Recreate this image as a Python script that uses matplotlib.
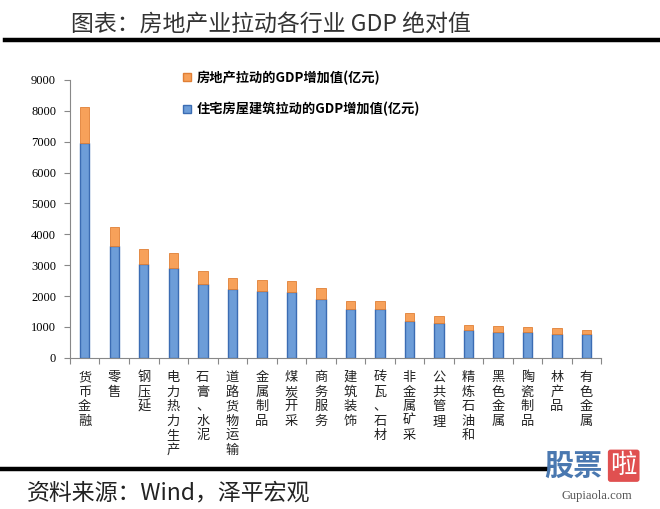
import matplotlib.pyplot as plt
from matplotlib.patches import Patch

plt.rcParams['font.family'] = ['Noto Sans CJK SC', 'DejaVu Sans']

# 行业与数值（亿元）
categories = ['货币金融', '零售', '钢压延', '电力热力生产', '石膏、水泥', '道路货物运输',
              '金属制品', '煤炭开采', '商务服务', '建筑装饰', '砖瓦、石材', '非金属矿采',
              '公共管理', '精炼石油和', '黑色金属', '陶瓷制品', '林产品', '有色金属']
total = [8110, 4230, 3510, 3400, 2800, 2600, 2510, 2480, 2260, 1850, 1830, 1440,
         1350, 1070, 1020, 985, 975, 900]
housing = [6950, 3610, 3030, 2910, 2380, 2220, 2160, 2120, 1910, 1590, 1570, 1190,
           1140, 900, 845, 830, 770, 770]
extra = [t - h for t, h in zip(total, housing)]
yticks = [0, 1000, 2000, 3000, 4000, 5000, 6000, 7000, 8000, 9000]

blue, blue_edge = '#6d9dd8', '#3b6cb3'
orange, orange_edge = '#f7a15a', '#e07f35'

fig = plt.figure(figsize=(6.6, 5.09), dpi=100)
ax = fig.add_axes([0.106, 0.297, 0.805, 0.546])

x = list(range(len(categories)))
ax.bar(x, housing, width=0.32, color=blue, edgecolor=blue_edge, linewidth=1.0)
ax.bar(x, extra, bottom=housing, width=0.32, color=orange, edgecolor=orange_edge, linewidth=0.6)

ax.set_xlim(-0.5, len(categories) - 0.5)
ax.set_ylim(0, 9000)
ax.set_yticks(yticks)
ax.set_yticklabels([str(v) for v in yticks], family='Liberation Serif', fontsize=9)
ax.tick_params(axis='y', direction='out', length=4, color='#888888', pad=6)

# 类目之间的刻度
ax.set_xticks([i - 0.5 for i in range(len(categories) + 1)])
ax.set_xticklabels([])
ax.tick_params(axis='x', direction='out', length=4, color='#888888')
for i, name in enumerate(categories):
    ax.text(i, -430, '\n'.join(name), ha='center', va='top', fontsize=9.5,
            linespacing=1.15, color='#222222')

for side in ['top', 'right']:
    ax.spines[side].set_visible(False)
for side in ['left', 'bottom']:
    ax.spines[side].set_color('#888888')

handles = [Patch(facecolor=orange, edgecolor=orange_edge, label='房地产拉动的GDP增加值(亿元)'),
           Patch(facecolor=blue, edgecolor=blue_edge, label='住宅房屋建筑拉动的GDP增加值(亿元)')]
fig.legend(handles=handles, loc='upper left', bbox_to_anchor=(0.26, 0.885), frameon=False,
           handlelength=0.6, handleheight=0.6, handletextpad=0.4, labelspacing=1.3,
           prop={'size': 9.5, 'weight': 'bold'})

# 标题与分隔线
fig.text(0.41, 0.952, '图表：房地产业拉动各行业 GDP 绝对值', ha='center', va='center',
         fontsize=16.5, weight='light', color='#333333')
fig.add_artist(plt.Line2D([0.008, 1.0], [0.921, 0.921], color='black', linewidth=3.2))
fig.add_artist(plt.Line2D([0.0, 0.83], [0.078, 0.078], color='black', linewidth=3.2))
fig.text(0.04, 0.032, '资料来源：Wind，泽平宏观', ha='left', va='center', fontsize=16.5,
         color='#222222', weight='light')

# 水印
fig.text(0.825, 0.085, '股票', ha='left', va='center', fontsize=21, weight='bold', color='#4a78b0')
fig.text(0.945, 0.085, '啦', ha='center', va='center', fontsize=19, color='white',
         bbox=dict(boxstyle='round,pad=0.1', facecolor='#e05050', edgecolor='none'))
fig.text(0.905, 0.025, 'Gupiaola.com', ha='center', va='center', fontsize=9,
         family='Liberation Serif', color='#555555')

fig.savefig('out.png', dpi=100)
